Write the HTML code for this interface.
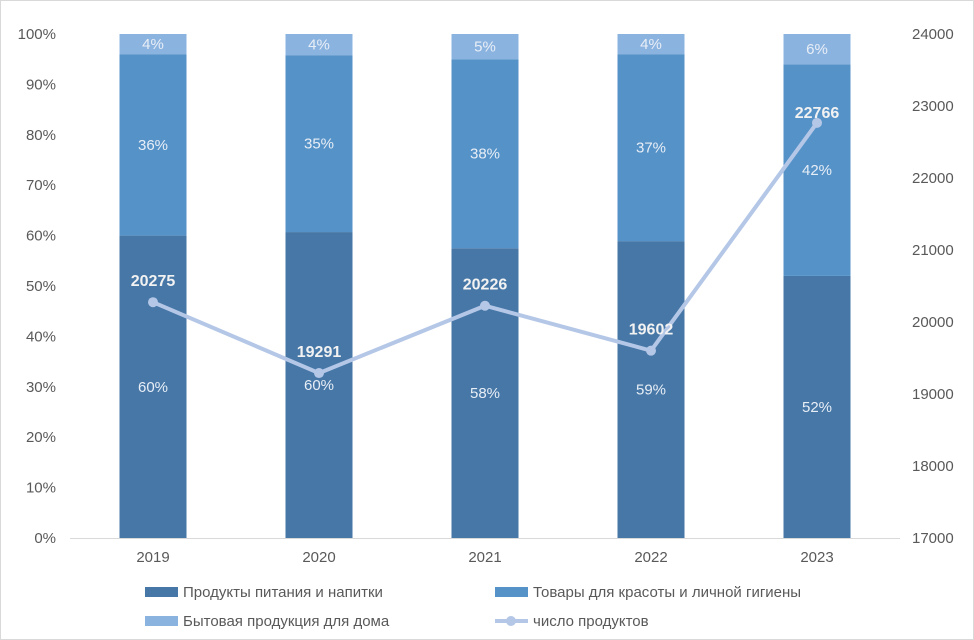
<!DOCTYPE html>
<html><head><meta charset="utf-8"><style>
body{margin:0;background:#fff;}
svg{display:block;font-family:"Liberation Sans",sans-serif;}
</style></head><body>
<svg id="c" width="974" height="640">
<rect x="0.5" y="0.5" width="973" height="639" fill="#fff" stroke="#d9d9d9"/>
</svg>
<script>
const years=["2019","2020","2021","2022","2023"];
const food=[60,60.7,57.5,58.9,52];
const beauty=[36,35.1,37.5,37.1,42];
const home=[4,4.2,5,4,6];
const foodLbl=["60%","60%","58%","59%","52%"];
const beautyLbl=["36%","35%","38%","37%","42%"];
const homeLbl=["4%","4%","5%","4%","6%"];
const products=[20275,19291,20226,19602,22766];
const leftTicks=[0,10,20,30,40,50,60,70,80,90,100];
const rightTicks=[17000,18000,19000,20000,21000,22000,23000,24000];
const NS="http://www.w3.org/2000/svg";
const svg=document.getElementById('c');
const y0=538,y1=34,x0=70,step=166,bw=67;
const labelDy=[-16,-16,-16,-16,-5];
const yL=v=>y0-(v/100)*(y0-y1);
const yR=v=>y0-(v-17000)/7000*(y0-y1);
const xc=i=>x0+step*(i+0.5);
function mk(t,a,txt){const e=document.createElementNS(NS,t);for(const k in a)e.setAttribute(k,a[k]);if(txt!==undefined)e.textContent=txt;svg.appendChild(e);return e;}
leftTicks.forEach(t=>{const e=mk('text',{x:56,y:yL(t)+5,'text-anchor':'end','font-size':15,fill:'#595959'},t+'%');

});
rightTicks.forEach(t=>{const e=mk('text',{x:912,y:yR(t)+5,'font-size':15,fill:'#595959'},t);

});
const ax=mk('line',{x1:x0,x2:x0+step*5,y1:y0+0.5,y2:y0+0.5,stroke:'#d9d9d9'});


const cols=['#4677a7','#5592c8','#8bb3e0'];
years.forEach((yr,i)=>{
  const x=xc(i)-bw/2;let base=0;
  [[food,foodLbl,'food'],[beauty,beautyLbl,'beauty'],[home,homeLbl,'home']].forEach((s,k)=>{
    const v=s[0][i];const top=yL(base+v),bot=yL(base);
    const r=mk('rect',{x:x,y:top,width:bw,height:bot-top,fill:cols[k]});
    
    
    const t=mk('text',{x:xc(i),y:(top+bot)/2+5,'text-anchor':'middle','font-size':15,fill:'#e8eef6'},s[1][i]);
    
    
    base+=v;
  });
  const xl=mk('text',{x:xc(i),y:562,'text-anchor':'middle','font-size':15,fill:'#595959'},yr);
  
  
});
const pl=mk('polyline',{points:products.map((v,i)=>xc(i)+','+yR(v)).join(' '),fill:'none',stroke:'#b4c7e7','stroke-width':4});


products.forEach((v,i)=>{
  const c=mk('circle',{cx:xc(i),cy:yR(v),r:5,fill:'#b4c7e7'});
  
  
  const t=mk('text',{x:xc(i),y:yR(v)+labelDy[i],'text-anchor':'middle','font-size':16,'font-weight':'bold',fill:'#f2f2f2'},v);
  
  
});
const leg=[[145,592,'rect',cols[0],'Продукты питания и напитки'],[495,592,'rect',cols[1],'Товары для красоты и личной гигиены'],[145,621,'rect',cols[2],'Бытовая продукция для дома'],[495,621,'line','#b4c7e7','число продуктов']];
leg.forEach(l=>{
  if(l[2]==='rect'){const r=mk('rect',{x:l[0],y:l[1]-5,width:33,height:10,fill:l[3]});
    
    }
  else{const r=mk('line',{x1:l[0],x2:l[0]+33,y1:l[1],y2:l[1],stroke:l[3],'stroke-width':4});
    
    
    const c=mk('circle',{cx:l[0]+16,cy:l[1],r:5,fill:l[3]});
    
    }
  const t=mk('text',{x:l[0]+38,y:l[1]+5,'font-size':15,fill:'#595959'},l[4]);
  
  
});
</script>
</body></html>
